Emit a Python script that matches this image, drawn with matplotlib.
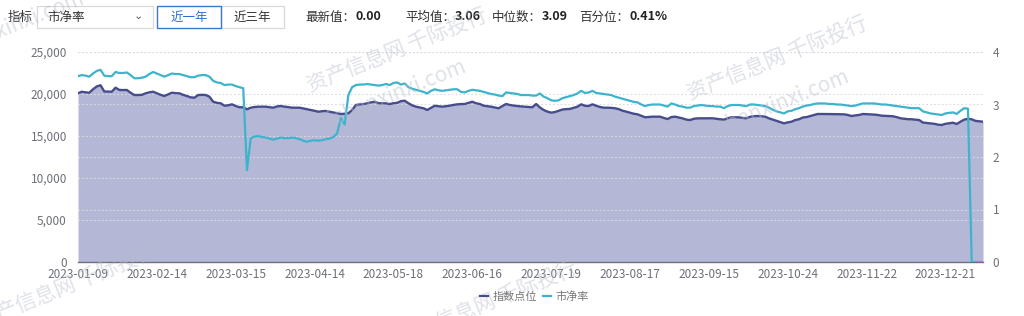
import matplotlib
matplotlib.use("Agg")
import matplotlib.pyplot as plt
from matplotlib.patches import Rectangle
from matplotlib.lines import Line2D

plt.rcParams['font.family'] = ['Noto Sans CJK SC', 'DejaVu Sans']

# x tick labels (every 21 trading days)
tick_labels = ['2023-01-09', '2023-02-14', '2023-03-15', '2023-04-14',
               '2023-05-18', '2023-06-16', '2023-07-19', '2023-08-17',
               '2023-09-15', '2023-10-24', '2023-11-22', '2023-12-21']

# index level, one value per trading day
index_points = [
    20080, 20270, 20200, 20150, 20560, 20900, 21040, 20300, 20280, 20270,
    20750, 20480, 20470, 20480, 20150, 19880, 19880, 19900, 20080, 20200,
    20270, 20080, 19900, 19760, 19950, 20150, 20100, 20080, 19900, 19760,
    19600, 19560, 19880, 19900, 19880, 19680, 19080, 18950, 18890, 18610,
    18650, 18770, 18570, 18420, 18420, 18180, 18370, 18450, 18490, 18490,
    18490, 18430, 18370, 18520, 18570, 18490, 18440, 18370, 18370, 18370,
    18280, 18180, 18100, 18000, 17890, 17950, 17980, 17890, 17800, 17700,
    17620, 17650, 17700, 18100, 18690, 18770, 18800, 18890, 19000, 19080,
    18900, 18890, 18890, 18800, 18900, 18950, 19150, 19200, 18900, 18650,
    18490, 18400, 18300, 18100, 18350, 18600, 18550, 18490, 18550, 18610,
    18700, 18770, 18800, 18810, 18950, 19080, 18900, 18810, 18610, 18550,
    18490, 18400, 18300, 18550, 18810, 18690, 18620, 18570, 18520, 18490,
    18450, 18420, 18810, 18400, 18100, 17900, 17780, 17850, 18000, 18150,
    18200, 18220, 18350, 18490, 18770, 18600, 18570, 18770, 18600, 18450,
    18370, 18370, 18350, 18300, 18200, 18010, 17900, 17770, 17650, 17580,
    17400, 17230, 17260, 17300, 17300, 17300, 17150, 17020, 17250, 17300,
    17200, 17100, 16950, 16900, 17050, 17100, 17100, 17110, 17100, 17110,
    17050, 16990, 16950, 17100, 17230, 17230, 17220, 17150, 17110, 17290,
    17350, 17380, 17350, 17300, 17100, 16950, 16790, 16650, 16510, 16620,
    16700, 16900, 16990, 17200, 17250, 17380, 17500, 17620, 17620, 17620,
    17610, 17600, 17590, 17580, 17580, 17500, 17380, 17450, 17500, 17620,
    17600, 17580, 17550, 17500, 17420, 17400, 17380, 17350, 17250, 17110,
    17050, 17000, 16990, 16950, 16900, 16600, 16550, 16510, 16450, 16350,
    16310, 16450, 16520, 16580, 16430, 16700, 16950, 17050, 16990, 16800,
    16750, 16700,
]

# price-to-book ratio (市净率), same days
pb_ratio = [
    3.54, 3.56, 3.55, 3.53, 3.59, 3.64, 3.66, 3.55, 3.54, 3.54,
    3.62, 3.60, 3.60, 3.61, 3.56, 3.50, 3.50, 3.51, 3.53, 3.58,
    3.62, 3.59, 3.56, 3.53, 3.56, 3.59, 3.58, 3.58, 3.56, 3.54,
    3.52, 3.52, 3.55, 3.56, 3.56, 3.53, 3.45, 3.42, 3.41, 3.37,
    3.38, 3.38, 3.35, 3.33, 3.31, 1.75, 2.36, 2.39, 2.40, 2.38,
    2.37, 2.35, 2.33, 2.35, 2.37, 2.36, 2.36, 2.37, 2.36, 2.34,
    2.31, 2.29, 2.31, 2.32, 2.31, 2.32, 2.34, 2.35, 2.38, 2.45,
    2.74, 2.62, 3.18, 3.33, 3.37, 3.38, 3.38, 3.39, 3.38, 3.37,
    3.36, 3.37, 3.39, 3.37, 3.41, 3.42, 3.38, 3.40, 3.33, 3.30,
    3.28, 3.26, 3.24, 3.21, 3.26, 3.29, 3.27, 3.26, 3.27, 3.28,
    3.29, 3.29, 3.24, 3.23, 3.26, 3.28, 3.27, 3.26, 3.24, 3.22,
    3.20, 3.19, 3.17, 3.16, 3.23, 3.22, 3.21, 3.20, 3.18, 3.18,
    3.18, 3.17, 3.17, 3.21, 3.15, 3.12, 3.08, 3.07, 3.08, 3.12,
    3.14, 3.16, 3.18, 3.21, 3.26, 3.22, 3.23, 3.26, 3.22, 3.21,
    3.20, 3.19, 3.18, 3.15, 3.13, 3.11, 3.09, 3.07, 3.05, 3.04,
    3.00, 2.97, 2.99, 3.00, 3.00, 3.00, 2.98, 2.96, 3.02, 3.00,
    2.97, 2.96, 2.94, 2.94, 2.97, 2.98, 2.99, 2.98, 2.97, 2.97,
    2.96, 2.96, 2.93, 2.97, 2.99, 2.99, 2.99, 2.98, 2.97, 3.00,
    3.00, 2.99, 2.98, 2.97, 2.94, 2.90, 2.87, 2.85, 2.83, 2.87,
    2.88, 2.91, 2.93, 2.96, 2.98, 2.99, 3.01, 3.02, 3.02, 3.02,
    3.01, 3.01, 3.00, 3.00, 2.99, 2.98, 2.97, 2.98, 3.00, 3.02,
    3.02, 3.02, 3.02, 3.01, 3.00, 3.00, 2.99, 2.98, 2.97, 2.96,
    2.95, 2.94, 2.93, 2.93, 2.93, 2.87, 2.85, 2.83, 2.82, 2.81,
    2.80, 2.83, 2.84, 2.85, 2.82, 2.88, 2.93, 2.92, 0.00, 0.00,
    0.00, 0.00,
]

series_names = ['指数点位', '市净率']
stat_names = ['最新值：', '平均值：', '中位数：', '百分位：']
stat_values = ['0.00', '3.06', '3.09', '0.41%']

W, H = 1024, 316
fig = plt.figure(figsize=(W / 100, H / 100), dpi=100)

dark = '#474d8c'
fill = '#b4b8d6'
cyan = '#3db4cc'
grey = '#6e7079'
grid_c = '#d9dbe2'
dots = (0, (1.5, 2))

# main axes
ax = fig.add_axes([78 / W, 1 - 262 / H, 905 / W, 210 / H])
x = list(range(len(index_points)))
ax.fill_between(x, index_points, color=fill, lw=0, zorder=1)
ax.plot(x, index_points, color=dark, lw=1.7, zorder=3)
ax.set_xlim(0, len(x) - 1)
ax.set_ylim(0, 25000)
ax.set_yticks(range(0, 25001, 5000))
ax.set_yticklabels([f'{v:,}' for v in range(0, 25001, 5000)])
ax.set_xticks(range(0, len(x), 21))
ax.set_xticklabels(tick_labels)
for s in ['top', 'right', 'left']:
    ax.spines[s].set_visible(False)
ax.spines['bottom'].set_color(grey)
ax.spines['bottom'].set_linewidth(1)
ax.tick_params(axis='both', length=0, colors=grey, labelsize=8.5)
ax.tick_params(axis='x', pad=4.5)
ax.tick_params(axis='y', pad=8)

# right axis for PB
ax2 = ax.twinx()
ax2.plot(x, pb_ratio, color=cyan, lw=1.6, zorder=3)
ax2.set_ylim(0, 4)
ax2.set_yticks(range(0, 5))
for s in ['top', 'right', 'left', 'bottom']:
    ax2.spines[s].set_visible(False)
ax2.tick_params(axis='y', length=0, colors=grey, labelsize=8.5, pad=7)

# dotted grid for both y axes, kept under the lines
for v in range(5000, 25001, 5000):
    ax.axhline(v, color=grid_c, lw=0.8, ls=dots, zorder=1.5)
to_left = ax.transData.inverted()
for v in range(1, 5):
    yl = to_left.transform(ax2.transData.transform((0, v)))[1]
    ax.axhline(yl, color=grid_c, lw=0.8, ls=dots, zorder=1.5)

# legend
handles = [Line2D([], [], color=dark, lw=1.6), Line2D([], [], color=cyan, lw=1.6)]
fig.legend(handles, series_names, loc='center', bbox_to_anchor=(0.522, 1 - 297 / H),
           ncol=2, frameon=False, fontsize=8, handlelength=0.7, handletextpad=0.4,
           columnspacing=0.6, labelcolor='#777777')

# header controls and watermarks, drawn on an overlay in pixel units
top = fig.add_axes([0, 0, 1, 1], zorder=5)
top.set_xlim(0, W)
top.set_ylim(H, 0)
top.axis('off')
top.patch.set_visible(False)

top.text(8, 17, '指标', fontsize=9, color='#333333', va='center')
top.add_patch(Rectangle((37, 6), 116, 22, fill=False, ec='#d9d9d9', lw=0.9))
top.text(47, 17, '市净率', fontsize=9, color='#333333', va='center')
top.text(138, 16, '⌄', fontsize=8, color='#555555', va='center', ha='center',
         family=['DejaVu Sans'])
top.add_patch(Rectangle((221, 6), 63, 22, fill=False, ec='#d9d9d9', lw=0.9))
top.add_patch(Rectangle((157, 6), 64, 22, fill=False, ec='#3a78d4', lw=1.0))
top.text(189, 17, '近一年', fontsize=9, color='#2e6bd1', va='center', ha='center')
top.text(252, 17, '近三年', fontsize=9, color='#333333', va='center', ha='center')

stat_x = [305, 405, 492, 579]
for sx, name, val in zip(stat_x, stat_names, stat_values):
    t = top.text(sx, 17, name, fontsize=9, color='#333333', va='center')
    fig.canvas.draw()
    bb = t.get_window_extent()
    top.text(sx + bb.width, 17, val, fontsize=9, color='#222222',
             fontweight='bold', va='center')

# faint watermarks
wm = '资产信息网 千际投行'
wm_c = '#b8bdcc'
for wx, wy in [(310, 92), (690, 100), (-20, 328), (400, 345)]:
    top.text(wx, wy, wm, fontsize=15, color=wm_c, alpha=0.45, rotation=22,
             rotation_mode='anchor')
for wx, wy in [(322, 130), (705, 140), (-60, 62)]:
    top.text(wx, wy, 'zichanxinxi.com', fontsize=15, color=wm_c, alpha=0.45,
             rotation=22, rotation_mode='anchor')

fig.savefig('out.png', dpi=100)
